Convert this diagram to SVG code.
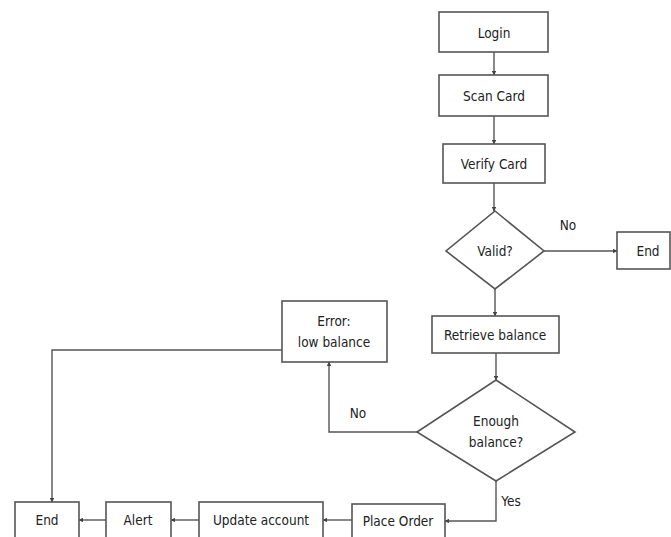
<svg xmlns="http://www.w3.org/2000/svg" width="671" height="537" viewBox="0 0 671 537">
<style>
.n{fill:#fff;stroke:#555;stroke-width:1.6}
.t{font-family:"DejaVu Sans Condensed","DejaVu Sans",sans-serif;font-size:13.5px;fill:#222;text-anchor:middle;dominant-baseline:central}
.c{fill:none;stroke:#555;stroke-width:1.4;marker-end:url(#a)}
</style>
<defs>
<marker id="a" viewBox="0 0 6 6" refX="5.5" refY="3" markerWidth="3.5" markerHeight="3.5" orient="auto">
<path d="M0,0 L6,3 L0,6 Z" fill="#444"/>
</marker>
</defs>
<rect width="671" height="537" fill="#fff"/>
<g id="connectors">
<path class="c" d="M494,52 V75"/>
<path class="c" d="M494,116 V144"/>
<path class="c" d="M494,183 V211"/>
<path class="c" d="M544,251 H617"/>
<path class="c" d="M495,289 V316"/>
<path class="c" d="M496,353 V380"/>
<path class="c" d="M417,432 H329 V362"/>
<path class="c" d="M496,481 V521 H445"/>
<path class="c" d="M352,520 H323"/>
<path class="c" d="M199,520 H171"/>
<path class="c" d="M106,520 H79"/>
<path class="c" d="M282,350 H52 V502"/>
<text class="t" x="568" y="225">No</text>
<text class="t" x="358" y="413">No</text>
<text class="t" x="511" y="501">Yes</text>
</g>
<g id="login"><rect class="n" x="439" y="12" width="109" height="40"/><text class="t" x="494" y="33">Login</text></g>
<g id="scan"><rect class="n" x="439" y="75" width="109" height="41"/><text class="t" x="494" y="96">Scan Card</text></g>
<g id="verify"><rect class="n" x="443" y="144" width="102" height="39"/><text class="t" x="494" y="164">Verify Card</text></g>
<g id="valid"><polygon class="n" points="495,211 544,251 495,289 446,251"/><text class="t" x="495" y="251">Valid?</text></g>
<g id="end1"><rect class="n" x="617" y="232" width="53" height="37"/><text class="t" x="648" y="251">End</text></g>
<g id="retrieve"><rect class="n" x="432" y="316" width="127" height="37"/><text class="t" x="495" y="335">Retrieve balance</text></g>
<g id="enough"><polygon class="n" points="496,380 575,432 496,481 417,432"/><text class="t" x="496" y="421">Enough</text><text class="t" x="496" y="442">balance?</text></g>
<g id="error"><rect class="n" x="282" y="301" width="105" height="61"/><text class="t" x="334" y="321">Error:</text><text class="t" x="334" y="342">low balance</text></g>
<g id="place"><rect class="n" x="352" y="504" width="93" height="40"/><text class="t" x="398" y="521">Place Order</text></g>
<g id="update"><rect class="n" x="199" y="502" width="124" height="42"/><text class="t" x="261" y="520">Update account</text></g>
<g id="alert"><rect class="n" x="106" y="502" width="65" height="42"/><text class="t" x="138" y="520">Alert</text></g>
<g id="end2"><rect class="n" x="15" y="502" width="64" height="42"/><text class="t" x="47" y="520">End</text></g>
</svg>
